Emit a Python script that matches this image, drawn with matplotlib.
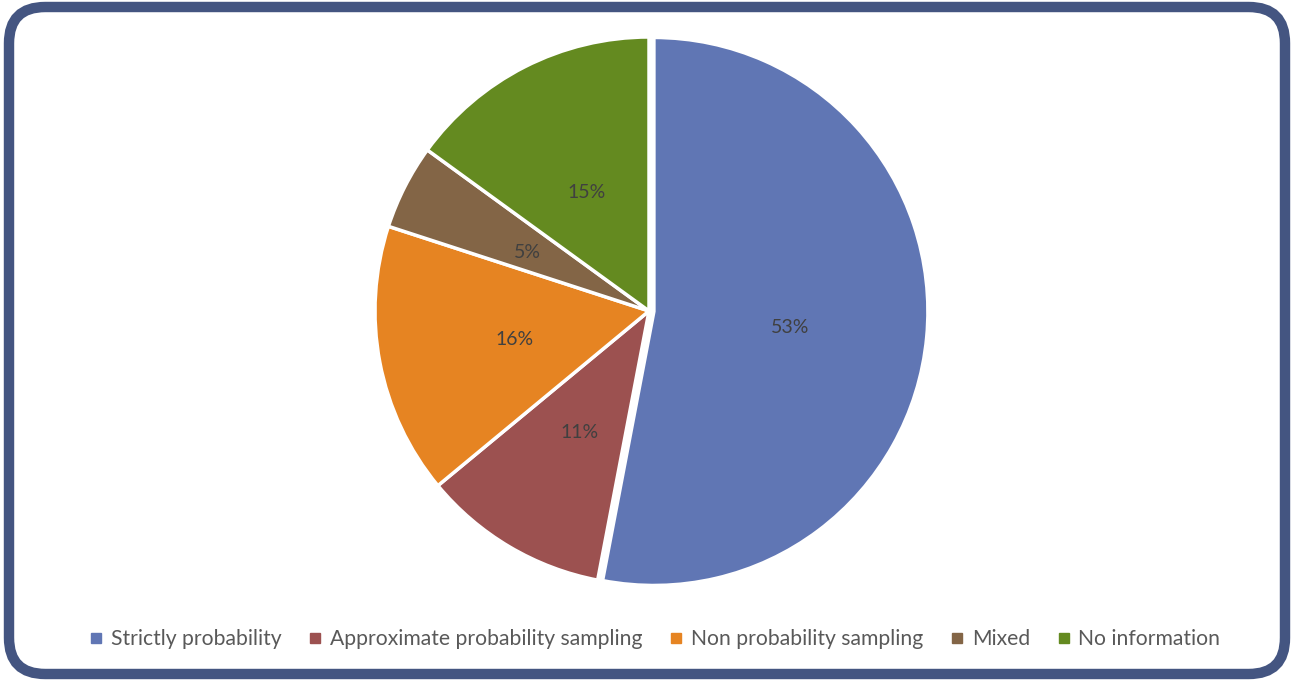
import matplotlib.pyplot as plt
from matplotlib.patches import FancyBboxPatch
from matplotlib.lines import Line2D

labels = ["Strictly probability", "Approximate probability sampling",
          "Non probability sampling", "Mixed", "No information"]
shares = [53, 11, 16, 5, 15]
colors = ["#6076B4", "#9C5150", "#E68422", "#836546", "#648A20"]

plt.rcParams["font.family"] = ["Lato", "DejaVu Sans"]

fig = plt.figure(figsize=(12.94, 6.81), dpi=100)

# rounded frame around the whole chart, kept behind the pie
frame = FancyBboxPatch((9 / 1294, 7 / 681), 1276 / 1294, 667 / 681,
                       boxstyle="round,pad=0,rounding_size=0.028",
                       transform=fig.transFigure, facecolor="white",
                       edgecolor="#445581", linewidth=7.5,
                       mutation_aspect=1294 / 681, zorder=-1)
fig.patches.append(frame)

ax = fig.add_axes([(649 - 274) / 1294, 1 - (311 + 274) / 681, 548 / 1294, 548 / 681])
ax.set_facecolor("none")

wedges, texts, autotexts = ax.pie(
    shares, colors=colors, startangle=90, counterclock=False,
    explode=[0.018, 0, 0, 0, 0], radius=1.0,
    autopct="%1.0f%%", pctdistance=0.5,
    wedgeprops=dict(edgecolor="white", linewidth=2.5),
    textprops=dict(color="#404040", fontsize=14),
)
for t in autotexts:
    t.set_y(t.get_position()[1] - 0.012)
ax.set_xlim(-1, 1)
ax.set_ylim(-1, 1)
ax.set_aspect("equal")

handles = [Line2D([0], [0], marker="s", linestyle="none", markersize=7,
                  markerfacecolor=c, markeredgecolor=c) for c in colors]
fig.legend(handles, labels, loc="center", bbox_to_anchor=(655 / 1294, 1 - 639 / 681),
           ncol=5, frameon=False, fontsize=15.2, labelcolor="#595959",
           handlelength=0.6, handletextpad=0.4, columnspacing=1.3)

fig.savefig("out.png", dpi=100)
